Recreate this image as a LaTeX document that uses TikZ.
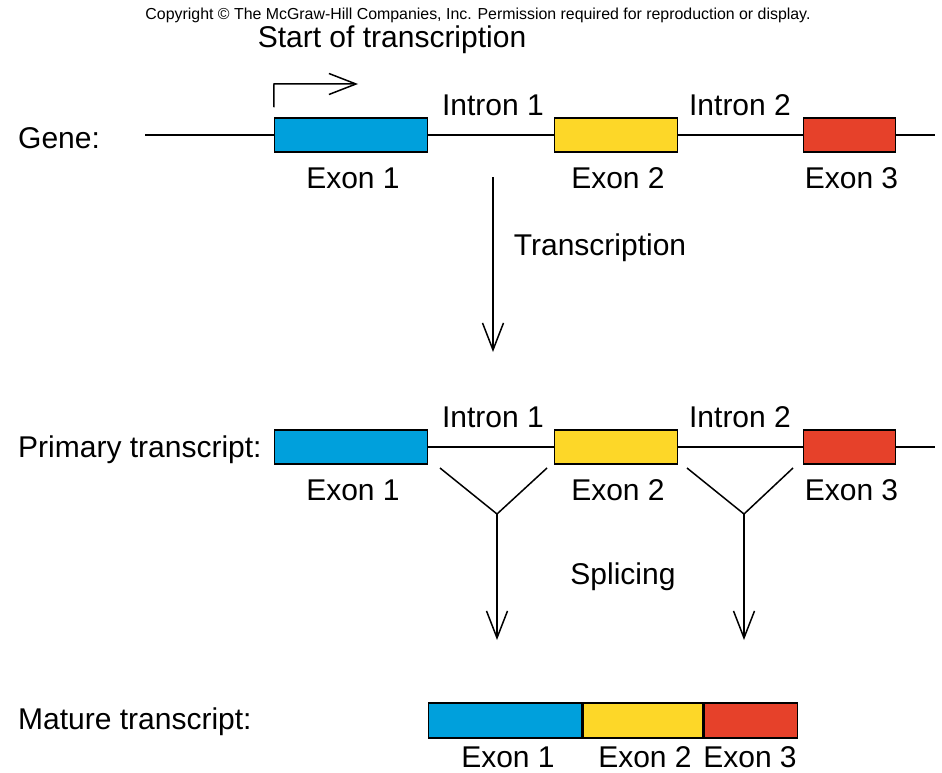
\documentclass[tikz,border=0pt]{standalone}
\usepackage{fontspec}
\setmainfont{Liberation Sans}
\usetikzlibrary{arrows.meta}
\definecolor{exonblue}{RGB}{0,160,220}
\definecolor{exonyellow}{RGB}{253,215,40}
\definecolor{exonred}{RGB}{230,65,42}
\tikzset{
	exon/.style={
		draw,
		line width=1.5pt,
		minimum height=34pt,
		inner sep=0pt
	},
	lbl/.style={
		font=\fontsize{30}{32}\selectfont,
		inner sep=0pt
	},
	strand/.style={
		line width=1.5pt
	},
	flow/.style={
		line width=1.5pt,
		-{Straight Barb[length=27pt,width=21pt,line width=1.5pt]}
	},
}
\begin{document}
\begin{tikzpicture}[x=1pt, y=-1pt]
\useasboundingbox (0,0) rectangle (942,773);

\node [font=\fontsize{15.9}{18}\selectfont, inner sep=0pt] (copy) at (478,15)
	{Copyright \textcopyright\ The McGraw-Hill Companies, Inc. Permission required for reproduction or display.};

% gene and primary transcript
\foreach \r/\y/\t in {gene/135/Gene:, prim/447/Primary transcript:} {
	\node [lbl, anchor=west] (\r-name) at (18,\y+3) {\t};
	\foreach \c/\w/\col [count=\i] in {351/153/exonblue, 616/123/exonyellow, 849.5/92/exonred} {
		\node [exon, fill=\col, minimum width=\w pt] (\r-exon-\i) at (\c,\y) {};
		\node [lbl] (\r-elab-\i) at (\c+2,\y+43) {Exon \i};
	}
	\node [lbl] (\r-ilab-1) at (493,\y-30) {Intron 1};
	\node [lbl] (\r-ilab-2) at (740,\y-30) {Intron 2};
	\coordinate (\r-end) at (935,\y);
}

\coordinate (gene-start) at (145,135);
\draw [strand] (gene-start) -- (gene-exon-1.west);
\foreach \r in {gene, prim} {
	\draw [strand] (\r-exon-1.east) -- (\r-exon-2.west);
	\draw [strand] (\r-exon-2.east) -- (\r-exon-3.west);
	\draw [strand] (\r-exon-3.east) -- (\r-end);
}

% start of transcription
\node [lbl] (start) at (392,40) {Start of transcription};
\coordinate (tss-top) at (274,84);
\coordinate (tss-tip) at (358,84);
\draw [flow] (gene-exon-1.north west) ++(0,-10) -- (tss-top) -- (tss-tip);

% transcription
\coordinate (tx-top) at (493,177);
\coordinate (tx-bot) at (493,352);
\draw [flow] (tx-top) -- (tx-bot);
\node [lbl] (tx-lab) at (600,248) {Transcription};

% splicing
\foreach \i/\x/\a/\b in {1/497/440/547, 2/744/687/793} {
	\coordinate (v-\i) at (\x,514);
	\coordinate (v-\i-l) at (\a,468);
	\coordinate (v-\i-r) at (\b,468);
	\coordinate (v-\i-tip) at (\x,640);
	\draw [strand] (v-\i-l) -- (v-\i) -- (v-\i-r);
	\draw [flow] (v-\i) -- (v-\i-tip);
}
\node [lbl] (splice) at (623,577) {Splicing};

% mature transcript
\node [lbl, anchor=west] (mat-name) at (18,722) {Mature transcript:};
\node [exon, fill=exonblue, minimum width=153pt, minimum height=35pt] (mat-exon-1) at (505,720.5) {};
\node [exon, fill=exonyellow, minimum width=120pt, minimum height=35pt, anchor=west] (mat-exon-2) at (mat-exon-1.east) {};
\node [exon, fill=exonred, minimum width=93pt, minimum height=35pt, anchor=west] (mat-exon-3) at (mat-exon-2.east) {};
\foreach \i/\c in {1/508, 2/645, 3/750}
	\node [lbl] (mat-elab-\i) at (\c,757) {Exon \i};

\end{tikzpicture}
\end{document}
